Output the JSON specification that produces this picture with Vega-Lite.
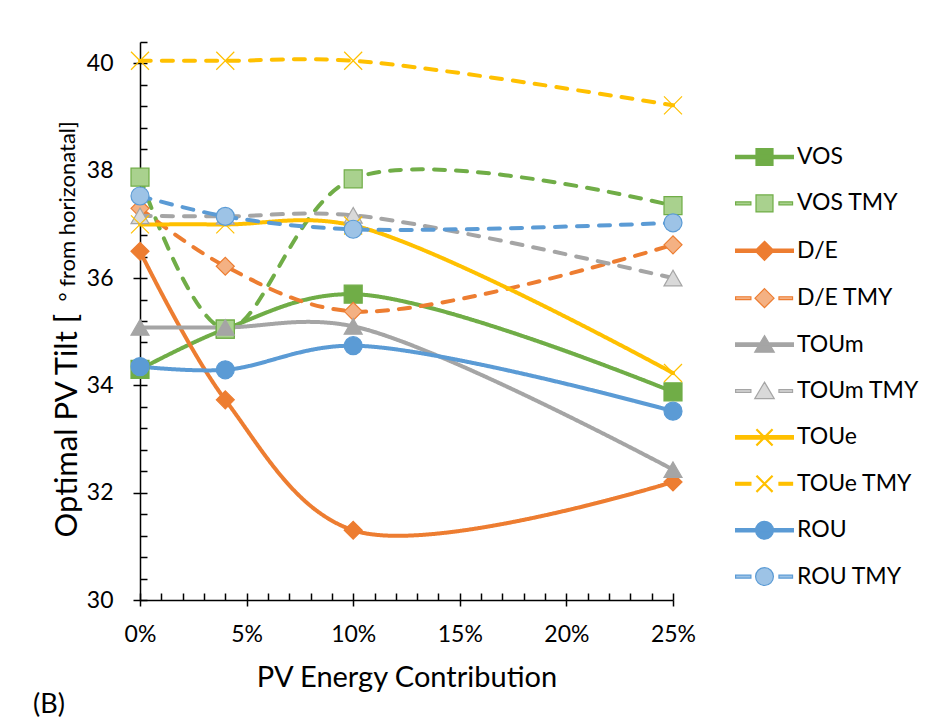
{
  "$schema": "https://vega.github.io/schema/vega-lite/v6.json",
  "width": 533,
  "height": 558,
  "autosize": "none",
  "padding": {"left": 140, "top": 42, "right": 267, "bottom": 119},
  "background": "white",
  "config": {
    "font": "Lato",
    "view": {"stroke": null},
    "axis": {
      "grid": false,
      "domainColor": "black",
      "tickColor": "black",
      "labelColor": "black",
      "titleColor": "black",
      "domainWidth": 1.5,
      "tickWidth": 1.5,
      "labelFont": "Lato",
      "labelFontSize": 23,
      "labelFlush": false,
      "labelOverlap": false,
      "titleFont": "Lato",
      "titleFontWeight": "normal"
    },
    "legend": {
      "labelFont": "Lato",
      "labelFontSize": 23,
      "labelColor": "black"
    }
  },
  "title": {"text": "(B)", "orient": "bottom", "anchor": "start", "frame": "group", "dx": -107, "offset": 0, "fontSize": 27, "fontWeight": "normal", "font": "Lato", "color": "black"},
  "data": {
    "values": [
      {"series": "VOS", "pv": 0, "tilt": 34.3},
      {"series": "VOS", "pv": 4, "tilt": 35.05},
      {"series": "VOS", "pv": 10, "tilt": 35.7},
      {"series": "VOS", "pv": 25, "tilt": 33.88},
      {"series": "VOS TMY", "pv": 0, "tilt": 37.88},
      {"series": "VOS TMY", "pv": 4, "tilt": 35.05},
      {"series": "VOS TMY", "pv": 10, "tilt": 37.85},
      {"series": "VOS TMY", "pv": 25, "tilt": 37.35},
      {"series": "D/E", "pv": 0, "tilt": 36.5},
      {"series": "D/E", "pv": 4, "tilt": 33.73},
      {"series": "D/E", "pv": 10, "tilt": 31.3},
      {"series": "D/E", "pv": 25, "tilt": 32.2},
      {"series": "D/E TMY", "pv": 0, "tilt": 37.3},
      {"series": "D/E TMY", "pv": 4, "tilt": 36.22},
      {"series": "D/E TMY", "pv": 10, "tilt": 35.38},
      {"series": "D/E TMY", "pv": 25, "tilt": 36.62},
      {"series": "TOUm", "pv": 0, "tilt": 35.08},
      {"series": "TOUm", "pv": 4, "tilt": 35.08},
      {"series": "TOUm", "pv": 10, "tilt": 35.1},
      {"series": "TOUm", "pv": 25, "tilt": 32.43},
      {"series": "TOUm TMY", "pv": 0, "tilt": 37.16},
      {"series": "TOUm TMY", "pv": 4, "tilt": 37.15},
      {"series": "TOUm TMY", "pv": 10, "tilt": 37.17},
      {"series": "TOUm TMY", "pv": 25, "tilt": 36.0},
      {"series": "TOUe", "pv": 0, "tilt": 37.0},
      {"series": "TOUe", "pv": 4, "tilt": 37.0},
      {"series": "TOUe", "pv": 10, "tilt": 36.98},
      {"series": "TOUe", "pv": 25, "tilt": 34.23},
      {"series": "TOUe TMY", "pv": 0, "tilt": 40.05},
      {"series": "TOUe TMY", "pv": 4, "tilt": 40.05},
      {"series": "TOUe TMY", "pv": 10, "tilt": 40.05},
      {"series": "TOUe TMY", "pv": 25, "tilt": 39.22},
      {"series": "ROU", "pv": 0, "tilt": 34.35},
      {"series": "ROU", "pv": 4, "tilt": 34.29},
      {"series": "ROU", "pv": 10, "tilt": 34.74},
      {"series": "ROU", "pv": 25, "tilt": 33.52},
      {"series": "ROU TMY", "pv": 0, "tilt": 37.53},
      {"series": "ROU TMY", "pv": 4, "tilt": 37.15},
      {"series": "ROU TMY", "pv": 10, "tilt": 36.91},
      {"series": "ROU TMY", "pv": 25, "tilt": 37.03}
    ]
  },
  "layer": [
    {
      "mark": {"type": "line", "interpolate": "catmull-rom", "strokeWidth": 4, "strokeCap": "round"},
      "encoding": {
        "x": {
          "field": "pv", "type": "quantitative",
          "scale": {"domain": [0, 25], "nice": false, "zero": false},
          "axis": {
            "orient": "bottom",
            "values": [0, 5, 10, 15, 20, 25],
            "tickSize": 6,
            "labelPadding": 17,
            "labelExpr": "datum.value + '%'",
            "title": "PV Energy Contribution",
            "titleFontSize": 29,
            "titlePadding": 17
          }
        },
        "y": {
          "field": "tilt", "type": "quantitative",
          "scale": {"domain": [30, 40.4], "nice": false, "zero": false},
          "axis": {
            "orient": "left",
            "values": [30, 32, 34, 36, 38, 40],
            "tickSize": 7,
            "labelPadding": 20,
            "title": "Optimal PV Tilt [",
            "titleFontSize": 31,
            "titleAngle": -90,
            "titleAlign": "left",
            "titleBaseline": "alphabetic",
            "titleX": -64,
            "titleY": 495
          }
        },
        "color": {
          "field": "series", "type": "nominal",
          "scale": {
            "domain": ["VOS", "VOS TMY", "D/E", "D/E TMY", "TOUm", "TOUm TMY", "TOUe", "TOUe TMY", "ROU", "ROU TMY"],
            "range": ["#70AD47", "#70AD47", "#ED7D31", "#ED7D31", "#A5A5A5", "#A5A5A5", "#FFC000", "#FFC000", "#5B9BD5", "#5B9BD5"]
          },
          "legend": null
        },
        "strokeDash": {
          "field": "series", "type": "nominal",
          "scale": {
            "domain": ["VOS", "VOS TMY", "D/E", "D/E TMY", "TOUm", "TOUm TMY", "TOUe", "TOUe TMY", "ROU", "ROU TMY"],
            "range": [[1, 0], [11, 11], [1, 0], [11, 11], [1, 0], [11, 11], [1, 0], [11, 11], [1, 0], [11, 11]]
          },
          "legend": null
        }
      }
    },
    {
      "mark": {"type": "point", "filled": true, "size": 324, "strokeWidth": 1.2, "opacity": 1},
      "encoding": {
        "x": {
          "field": "pv", "type": "quantitative",
          "scale": {"domain": [0, 25], "nice": false, "zero": false},
          "axis": {
            "orient": "bottom",
            "values": [0, 1, 2, 3, 4, 5, 6, 7, 8, 9, 10, 11, 12, 13, 14, 15, 16, 17, 18, 19, 20, 21, 22, 23, 24, 25],
            "tickSize": -7,
            "labels": false,
            "domain": false,
            "title": null
          }
        },
        "y": {
          "field": "tilt", "type": "quantitative",
          "scale": {"domain": [30, 40.4], "nice": false, "zero": false},
          "axis": {
            "orient": "left",
            "values": [30, 30.4, 30.8, 31.2, 31.6, 32, 32.4, 32.8, 33.2, 33.6, 34, 34.4, 34.8, 35.2, 35.6, 36, 36.4, 36.8, 37.2, 37.6, 38, 38.4, 38.8, 39.2, 39.6, 40, 40.4],
            "tickSize": -7,
            "labels": false,
            "domain": false,
            "title": "° from horizonatal]",
            "titleFontSize": 22,
            "titleAngle": -90,
            "titleAlign": "left",
            "titleBaseline": "alphabetic",
            "titleX": -66,
            "titleY": 259
          }
        },
        "shape": {
          "field": "series", "type": "nominal",
          "scale": {
            "domain": ["VOS", "VOS TMY", "D/E", "D/E TMY", "TOUm", "TOUm TMY", "TOUe", "TOUe TMY", "ROU", "ROU TMY"],
            "range": ["square", "square", "diamond", "diamond", "triangle-up", "triangle-up", "M-1,-1L1,1M-1,1L1,-1", "M-1,-1L1,1M-1,1L1,-1", "circle", "circle"]
          },
          "legend": null
        },
        "fill": {
          "field": "series", "type": "nominal",
          "scale": {
            "domain": ["VOS", "VOS TMY", "D/E", "D/E TMY", "TOUm", "TOUm TMY", "TOUe", "TOUe TMY", "ROU", "ROU TMY"],
            "range": ["#70AD47", "#A9D18E", "#ED7D31", "#F4B183", "#A5A5A5", "#D9D9D9", "transparent", "transparent", "#5B9BD5", "#9DC3E6"]
          },
          "legend": null
        },
        "stroke": {
          "field": "series", "type": "nominal",
          "scale": {
            "domain": ["VOS", "VOS TMY", "D/E", "D/E TMY", "TOUm", "TOUm TMY", "TOUe", "TOUe TMY", "ROU", "ROU TMY"],
            "range": ["#70AD47", "#70AD47", "#ED7D31", "#ED7D31", "#A5A5A5", "#A5A5A5", "#FFC000", "#FFC000", "#5B9BD5", "#5B9BD5"]
          },
          "legend": null
        }
      }
    },
    {
      "transform": [{"filter": "false"}],
      "mark": {"type": "point", "filled": true, "size": 289, "strokeWidth": 1.2, "opacity": 1},
      "encoding": {
        "x": {"field": "pv", "type": "quantitative", "axis": null},
        "y": {"field": "tilt", "type": "quantitative", "axis": null},
        "shape": {
          "field": "series", "type": "nominal",
          "scale": {
            "domain": ["VOS", "VOS TMY", "D/E", "D/E TMY", "TOUm", "TOUm TMY", "TOUe", "TOUe TMY", "ROU", "ROU TMY"],
            "range": [
              "M-3.4,-0.2H3.4V0.2H-3.4Z M-1,-1H1V1H-1Z",
              "M-3.4,-0.17H-1.6V0.17H-3.4Z M1.7,-0.17H3.3V0.17H1.7Z M-1,-1H1V1H-1Z",
              "M-3.4,-0.2H3.4V0.2H-3.4Z M0,-1.12L1.12,0L0,1.12L-1.12,0Z",
              "M-3.4,-0.17H-1.6V0.17H-3.4Z M1.7,-0.17H3.3V0.17H1.7Z M0,-1.12L1.12,0L0,1.12L-1.12,0Z",
              "M-3.4,-0.2H3.4V0.2H-3.4Z M0,-1.05L1.15,0.9H-1.15Z",
              "M-3.4,-0.17H-1.6V0.17H-3.4Z M1.7,-0.17H3.3V0.17H1.7Z M0,-1.05L1.15,0.9H-1.15Z",
              "M-3.4,-0.2H3.4V0.2H-3.4Z M-0.858,-0.942L0.942,0.858L0.858,0.942L-0.942,-0.858Z M-0.942,0.858L0.858,-0.942L0.942,-0.858L-0.858,0.942Z",
              "M-3.4,-0.17H-1.6V0.17H-3.4Z M1.7,-0.17H3.3V0.17H1.7Z M-0.858,-0.942L0.942,0.858L0.858,0.942L-0.942,-0.858Z M-0.942,0.858L0.858,-0.942L0.942,-0.858L-0.858,0.942Z",
              "M-3.4,-0.2H3.4V0.2H-3.4Z M1.05,0A1.05,1.05,0,1,1,-1.05,0A1.05,1.05,0,1,1,1.05,0Z",
              "M-3.4,-0.17H-1.6V0.17H-3.4Z M1.7,-0.17H3.3V0.17H1.7Z M1.05,0A1.05,1.05,0,1,1,-1.05,0A1.05,1.05,0,1,1,1.05,0Z"
            ]
          },
          "legend": {
            "orient": "none",
            "legendX": 613,
            "legendY": 103.5,
            "direction": "vertical",
            "title": null,
            "padding": 0,
            "symbolSize": 289,
            "symbolStrokeWidth": 1.2,
            "symbolOpacity": 1,
            "labelOffset": 21,
            "rowPadding": 22.4
          }
        },
        "fill": {
          "field": "series", "type": "nominal",
          "scale": {
            "domain": ["VOS", "VOS TMY", "D/E", "D/E TMY", "TOUm", "TOUm TMY", "TOUe", "TOUe TMY", "ROU", "ROU TMY"],
            "range": ["#70AD47", "#A9D18E", "#ED7D31", "#F4B183", "#A5A5A5", "#D9D9D9", "#FFC000", "#FFC000", "#5B9BD5", "#9DC3E6"]
          },
          "legend": {
            "orient": "none",
            "legendX": 613,
            "legendY": 103.5,
            "direction": "vertical",
            "title": null,
            "padding": 0,
            "symbolSize": 289,
            "symbolStrokeWidth": 1.2,
            "symbolOpacity": 1,
            "labelOffset": 21,
            "rowPadding": 22.4
          }
        },
        "stroke": {
          "field": "series", "type": "nominal",
          "scale": {
            "domain": ["VOS", "VOS TMY", "D/E", "D/E TMY", "TOUm", "TOUm TMY", "TOUe", "TOUe TMY", "ROU", "ROU TMY"],
            "range": ["#70AD47", "#70AD47", "#ED7D31", "#ED7D31", "#A5A5A5", "#A5A5A5", "#FFC000", "#FFC000", "#5B9BD5", "#5B9BD5"]
          },
          "legend": {
            "orient": "none",
            "legendX": 613,
            "legendY": 103.5,
            "direction": "vertical",
            "title": null,
            "padding": 0,
            "symbolSize": 289,
            "symbolStrokeWidth": 1.2,
            "symbolOpacity": 1,
            "labelOffset": 21,
            "rowPadding": 22.4
          }
        }
      }
    }
  ],
  "resolve": {
    "axis": {"x": "independent", "y": "independent"},
    "scale": {"shape": "independent", "fill": "independent", "stroke": "independent"}
  }
}
